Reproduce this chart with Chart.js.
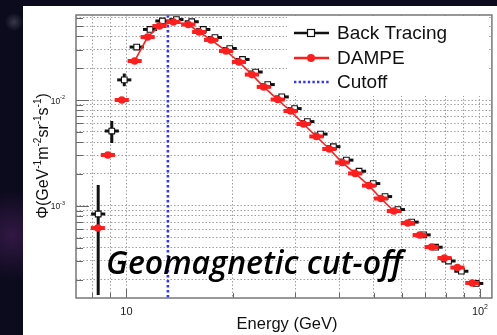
<!DOCTYPE html>
<html><head><meta charset="utf-8">
<script src="https://cdn.jsdelivr.net/npm/chart.js@4.4.1/dist/chart.umd.min.js"></script>
<style>
html,body{margin:0;padding:0;width:497px;height:335px;overflow:hidden;}
body{background:
 radial-gradient(circle at 12px 235px, rgba(80,35,100,0.55), rgba(0,0,0,0) 45px),
 radial-gradient(circle at 14px 22px, rgba(110,110,130,0.45), rgba(0,0,0,0) 9px),
 #0c0a1d;}
canvas{display:block;}
</style></head><body>
<canvas id="c" width="497" height="335"></canvas>
<script>
// ---- data ----
const dampeEnergy = [8.30, 8.86, 9.70, 10.55, 11.48, 12.40, 13.58, 14.96, 16.06, 17.36,
  19.13, 20.81, 22.64, 24.46, 26.78, 29.13, 31.68, 34.46, 37.49, 40.77,
  44.35, 48.56, 52.48, 57.07, 62.49, 67.53, 72.98, 79.38, 86.35, 95.15];
const dampeFlux = [6.15e-4, 3.02e-3, 1.00e-2, 2.34e-2, 3.94e-2, 5.01e-2, 5.47e-2, 5.18e-2, 4.40e-2, 3.70e-2,
  2.91e-2, 2.29e-2, 1.74e-2, 1.33e-2, 1.01e-2, 7.87e-3, 5.93e-3, 4.52e-3, 3.44e-3, 2.56e-3,
  2.02e-3, 1.55e-3, 1.17e-3, 8.91e-4, 6.86e-4, 5.28e-4, 4.07e-4, 3.20e-4, 2.60e-4, 1.86e-4];
const btEnergy = [8.32, 9.09, 9.86, 10.69, 11.66, 12.64, 13.85, 15.3, 16.5, 17.8,
  19.6, 21.3, 23.2, 25.1, 27.5, 29.9, 32.5, 35.4, 38.5, 41.9,
  45.5, 49.9, 53.9, 58.6, 64.1, 69.3, 74.9, 81.5, 88.6, 97.6];
const btFlux = [8.35e-4, 5.09e-3, 1.55e-2, 3.17e-2, 4.65e-2, 5.59e-2, 5.77e-2, 5.50e-2, 4.65e-2, 3.90e-2,
  3.07e-2, 2.42e-2, 1.84e-2, 1.40e-2, 1.07e-2, 8.30e-3, 6.25e-3, 4.76e-3, 3.62e-3, 2.70e-3,
  2.12e-3, 1.62e-3, 1.22e-3, 9.2e-4, 7.0e-4, 5.3e-4, 4.05e-4, 3.0e-4, 2.4e-4, 1.84e-4];
const btFluxLow = [1.43e-4, 3.92e-3, 1.35e-2];
const btFluxHigh = [1.57e-3, 6.33e-3, 1.78e-2];
const cutoffEnergy = 13.1;
const binHalfWidthDex = 0.02;

const xTicks = [8, 9, 10, 20, 30, 40, 50, 60, 70, 80, 90, 100];
const yTicks = [2e-4, 3e-4, 4e-4, 5e-4, 6e-4, 7e-4, 8e-4, 9e-4,
  1e-3, 2e-3, 3e-3, 4e-3, 5e-3, 6e-3, 7e-3, 8e-3, 9e-3,
  1e-2, 2e-2, 3e-2, 4e-2, 5e-2, 6e-2];
const xMajor = [10, 100];
const xLabelBase = ['10', '10'];
const xLabelExp = ['', '2'];
const yMajor = [1e-3, 1e-2];
const yLabelBase = ['10', '10'];
const yLabelExp = ['-3', '-2'];

const RED = '#ff1e1e', BLACK = '#111111', BLUE = '#3535ff';
const FONT = '"Liberation Sans", Arial, Helvetica, sans-serif';

function drawRich(ctx, parts, x, y, align) {
  let w = 0;
  parts.forEach(p => { ctx.font = p.size + 'px ' + FONT; p.w = ctx.measureText(p.t).width; w += p.w; });
  let cx = align === 'center' ? x - w / 2 : align === 'right' ? x - w : x;
  ctx.textAlign = 'left'; ctx.textBaseline = 'alphabetic';
  parts.forEach(p => { ctx.font = p.size + 'px ' + FONT; ctx.fillText(p.t, cx, y + (p.dy || 0)); cx += p.w; });
}

const decor = {
  id: 'decor',
  beforeDraw(chart) {
    const ctx = chart.ctx;
    ctx.save(); ctx.fillStyle = '#ffffff'; ctx.fillRect(23, 6, chart.width - 23, chart.height - 6); ctx.restore();
  },
  beforeDatasetsDraw(chart) {
    const ctx = chart.ctx, a = chart.chartArea, xs = chart.scales.x;
    ctx.save();
    ctx.fillStyle = '#ffffff'; ctx.fillRect(287, 16, 200, 80);
    const cx = xs.getPixelForValue(cutoffEnergy);
    ctx.strokeStyle = BLUE; ctx.lineWidth = 2.6; ctx.setLineDash([2.6, 2.4]);
    ctx.beginPath(); ctx.moveTo(cx, a.top); ctx.lineTo(cx, a.bottom); ctx.stroke();
    ctx.restore();
  },
  beforeDatasetDraw(chart, args) {
    const ds = chart.data.datasets[args.index];
    const ctx = chart.ctx, xs = chart.scales.x, ys = chart.scales.y, a = chart.chartArea;
    ctx.save();
    ctx.beginPath(); ctx.rect(a.left, a.top, a.right - a.left, a.bottom - a.top); ctx.clip();
    ctx.strokeStyle = ds.errColor; ctx.lineWidth = ds.errWidth; ctx.lineCap = 'butt';
    const f = Math.pow(10, binHalfWidthDex);
    ds.data.forEach(p => {
      const py = ys.getPixelForValue(p.y);
      ctx.beginPath();
      ctx.moveTo(xs.getPixelForValue(p.x / f), py);
      ctx.lineTo(xs.getPixelForValue(p.x * f), py);
      ctx.stroke();
      if (p.lo !== undefined) {
        const px = xs.getPixelForValue(p.x);
        ctx.beginPath();
        ctx.moveTo(px, ys.getPixelForValue(p.lo));
        ctx.lineTo(px, ys.getPixelForValue(p.hi));
        ctx.stroke();
      }
    });
    ctx.restore();
  },
  afterDatasetsDraw(chart) {
    const ctx = chart.ctx, a = chart.chartArea, xs = chart.scales.x, ys = chart.scales.y;
    ctx.save();
    ctx.strokeStyle = '#666'; ctx.lineWidth = 1;
    xTicks.forEach(v => {
      const px = Math.round(xs.getPixelForValue(v)) + 0.5;
      const len = xMajor.includes(v) ? 9 : 5;
      ctx.beginPath(); ctx.moveTo(px, a.bottom); ctx.lineTo(px, a.bottom - len); ctx.stroke();
    });
    yTicks.forEach(v => {
      const py = Math.round(ys.getPixelForValue(v)) + 0.5;
      const len = yMajor.includes(v) ? 13 : 7;
      ctx.beginPath(); ctx.moveTo(a.left, py); ctx.lineTo(a.left + len, py); ctx.stroke();
    });
    ctx.strokeStyle = '#777'; ctx.lineWidth = 1.5;
    ctx.strokeRect(a.left, a.top, a.right - a.left, a.bottom - a.top);
    ctx.fillStyle = '#222';
    xMajor.forEach((v, i) => {
      const px = xs.getPixelForValue(v);
      const parts = [{ t: xLabelBase[i], size: 11 }];
      if (xLabelExp[i]) parts.push({ t: xLabelExp[i], size: 7, dy: -6 });
      drawRich(ctx, parts, px, 315, 'center');
    });
    yMajor.forEach((v, i) => {
      const py = ys.getPixelForValue(v);
      drawRich(ctx, [{ t: yLabelBase[i], size: 8.5 }, { t: yLabelExp[i], size: 5.5, dy: -4.5 }], 65, py + 3.5, 'right');
    });
    ctx.fillStyle = '#111';
    drawRich(ctx, [{ t: 'Energy (GeV)', size: 16.5 }], 287, 329, 'center');
    ctx.translate(48, 156); ctx.rotate(-Math.PI / 2);
    const S = 16, s = 10, d = -7;
    drawRich(ctx, [{ t: 'Φ(GeV', size: S }, { t: '-1', size: s, dy: d }, { t: 'm', size: S }, { t: '-2', size: s, dy: d },
      { t: 'sr', size: S }, { t: '-1', size: s, dy: d }, { t: 's', size: S }, { t: '-1', size: s, dy: d }, { t: ')', size: S }], 0, 0, 'center');
    ctx.restore();

    ctx.save();
    const lx0 = 294, lx1 = 329, tx = 337;
    const rows = [33, 58, 82];
    ctx.strokeStyle = BLACK; ctx.lineWidth = 2.6;
    ctx.beginPath(); ctx.moveTo(lx0, rows[0]); ctx.lineTo(lx1, rows[0]); ctx.stroke();
    ctx.fillStyle = '#fff'; ctx.lineWidth = 1.2; ctx.fillRect(307.5, rows[0] - 3.5, 7, 7); ctx.strokeRect(307.5, rows[0] - 3.5, 7, 7);
    ctx.strokeStyle = RED; ctx.lineWidth = 2.6;
    ctx.beginPath(); ctx.moveTo(lx0, rows[1]); ctx.lineTo(lx1, rows[1]); ctx.stroke();
    ctx.fillStyle = RED; ctx.beginPath(); ctx.arc(311, rows[1], 4, 0, Math.PI * 2); ctx.fill();
    ctx.strokeStyle = BLUE; ctx.lineWidth = 2.4; ctx.setLineDash([2.4, 2.2]);
    ctx.beginPath(); ctx.moveTo(lx0, rows[2]); ctx.lineTo(lx1, rows[2]); ctx.stroke();
    ctx.setLineDash([]);
    ctx.fillStyle = '#111'; ctx.font = '19px ' + FONT; ctx.textBaseline = 'middle'; ctx.textAlign = 'left';
    ctx.fillText(chart.data.datasets[0].label, tx, rows[0] + 1);
    ctx.fillText(chart.data.datasets[1].label, tx, rows[1] + 1);
    ctx.fillText('Cutoff', tx, rows[2] + 1);
    ctx.restore();
  },
  afterDraw(chart) {
    const ctx = chart.ctx;
    ctx.save();
    ctx.fillStyle = '#000';
    ctx.font = 'italic 600 32px "Open Sans", "Noto Sans", sans-serif';
    ctx.textAlign = 'left'; ctx.textBaseline = 'alphabetic';
    ctx.fillText('Geomagnetic cut-off', 106, 274);
    ctx.restore();
  }
};

const btData = btEnergy.map((e, i) => {
  const p = { x: e, y: btFlux[i] };
  if (i < btFluxLow.length) { p.lo = btFluxLow[i]; p.hi = btFluxHigh[i]; }
  return p;
});
const dampeData = dampeEnergy.map((e, i) => ({ x: e, y: dampeFlux[i] }));

new Chart(document.getElementById('c'), {
  type: 'scatter',
  data: {
    datasets: [
      { label: 'Back Tracing', data: btData, order: 2, showLine: false,
        pointStyle: 'rect', pointRadius: 4, pointHoverRadius: 4,
        pointBackgroundColor: '#ffffff', pointBorderColor: BLACK, pointBorderWidth: 1.1,
        errColor: BLACK, errWidth: 3 },
      { label: 'DAMPE', data: dampeData, order: 1, showLine: true,
        borderColor: RED, borderWidth: 1.6,
        segment: { borderColor: c => (c.p0DataIndex >= 3 && c.p0DataIndex <= 22) ? RED : 'rgba(0,0,0,0)' },
        pointStyle: 'circle', pointRadius: 3.8, pointHoverRadius: 3.8,
        pointBackgroundColor: RED, pointBorderWidth: 0,
        errColor: RED, errWidth: 4 }
    ]
  },
  options: {
    responsive: false, animation: false, devicePixelRatio: 1,
    layout: { padding: { top: 15, right: 2, left: 0, bottom: 0 } },
    plugins: { legend: { display: false }, tooltip: { enabled: false } },
    scales: {
      x: { type: 'logarithmic', min: 7.2, max: 108.1,
        afterBuildTicks: s => { s.ticks = xTicks.map(v => ({ value: v })); },
        afterFit: s => { s.height = 37; },
        ticks: { display: false },
        grid: { color: '#a0a0a0', lineWidth: 1, drawTicks: false },
        border: { display: false, dash: [1.5, 2] } },
      y: { type: 'logarithmic', min: 1.34e-4, max: 0.0637,
        afterBuildTicks: s => { s.ticks = yTicks.map(v => ({ value: v })); },
        afterFit: s => { s.width = 76; },
        ticks: { display: false },
        grid: { color: '#a0a0a0', lineWidth: 1, drawTicks: false },
        border: { display: false, dash: [1.5, 2] } }
    }
  },
  plugins: [decor]
});
</script>
</body></html>
